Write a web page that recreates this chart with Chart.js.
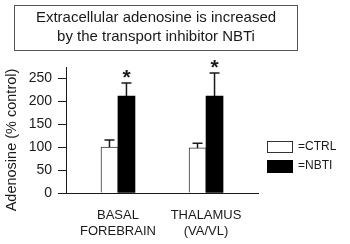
<!DOCTYPE html>
<html>
<head>
<meta charset="utf-8">
<script src="https://cdn.jsdelivr.net/npm/chart.js@4"></script>
<style>
  html, body { margin: 0; padding: 0; background: #fff; }
</style>
</head>
<body>
<canvas id="chart" width="350" height="244"></canvas>
<script>
// 데이터
const regions = [["BASAL", "FOREBRAIN"], ["THALAMUS", "(VA/VL)"]];
const regionPos = [1, 2];
const ctrlValues = [100, 98];
const nbtiValues = [211, 211];
const ctrlErr = [15, 10];
const nbtiErr = [28, 50];
const significant = [true, true];
const yTicks = [0, 50, 100, 150, 200, 250];
const yTitle = "Adenosine (% control)";
const titleLines = ["Extracellular adenosine is increased", "by the transport inhibitor NBTi"];

const FONT = "'Liberation Sans', Arial, sans-serif";
const INK = "#1a1a1a";

// 제목 박스 + y축 제목
const titleBox = {
  id: "titleBox",
  afterDraw(chart) {
    const c = chart.ctx;
    c.save();
    c.strokeStyle = "#555";
    c.lineWidth = 1;
    c.strokeRect(14.5, 5.5, 283, 45);
    c.fillStyle = INK;
    c.font = "15px " + FONT;
    c.textAlign = "center";
    c.textBaseline = "middle";
    c.fillText(titleLines[0], 156, 18);
    c.fillText(titleLines[1], 156, 37);
    c.translate(12, 140);
    c.rotate(-Math.PI / 2);
    c.font = "14.5px " + FONT;
    c.fillText(yTitle, 0, 0);
    c.restore();
  },
};

// 오차 막대 + 별표
const errorBars = {
  id: "errorBars",
  afterDatasetsDraw(chart) {
    const c = chart.ctx;
    const y = chart.scales.y;
    c.save();
    c.strokeStyle = INK;
    c.lineWidth = 1.5;
    [ctrlErr, nbtiErr].forEach((errs, di) => {
      const meta = chart.getDatasetMeta(di);
      const vals = di === 0 ? ctrlValues : nbtiValues;
      meta.data.forEach((bar, i) => {
        const top = y.getPixelForValue(vals[i] + errs[i]);
        c.beginPath();
        c.moveTo(bar.x, bar.y);
        c.lineTo(bar.x, top);
        c.moveTo(bar.x - 5, top);
        c.lineTo(bar.x + 5, top);
        c.stroke();
        if (di === 1 && significant[i]) {
          c.fillStyle = INK;
          c.font = "bold 21px " + FONT;
          c.textAlign = "center";
          c.textBaseline = "middle";
          c.fillText("*", bar.x, top - 5);
        }
      });
    });
    c.restore();
  },
};

// 범례
const sideLegend = {
  id: "sideLegend",
  afterDraw(chart) {
    const c = chart.ctx;
    c.save();
    c.strokeStyle = "#333";
    c.lineWidth = 1;
    c.strokeRect(267.5, 141.5, 25, 11);
    c.fillStyle = "#000";
    c.fillRect(267, 160, 26, 13);
    c.fillStyle = INK;
    c.font = "12px " + FONT;
    c.textBaseline = "middle";
    c.fillText("=CTRL", 298, 147);
    c.fillText("=NBTI", 298, 166);
    c.restore();
  },
};

const ctx = document.getElementById("chart").getContext("2d");
new Chart(ctx, {
  type: "bar",
  data: {
    datasets: [
      {
        label: "CTRL",
        data: regionPos.map((x, i) => ({ x: x, y: ctrlValues[i] })),
        backgroundColor: "#fff",
        borderColor: "#333",
        borderWidth: 1,
        barThickness: 17,
      },
      {
        label: "NBTI",
        data: regionPos.map((x, i) => ({ x: x, y: nbtiValues[i] })),
        backgroundColor: "#000",
        borderColor: "#000",
        borderWidth: 0,
        barThickness: 17,
      },
    ],
  },
  options: {
    responsive: false,
    animation: false,
    layout: { padding: { top: 67, right: 92, left: 0, bottom: 0 } },
    plugins: { legend: { display: false }, tooltip: { enabled: false } },
    scales: {
      x: {
        type: "linear",
        offset: false,
        min: 0.41,
        max: 2.59,
        grid: { display: false },
        border: { display: true, color: INK, width: 1 },
        afterBuildTicks: (s) => { s.ticks = regionPos.map((v) => ({ value: v })); },
        afterFit: (s) => { s.height = 51; },
        ticks: {
          color: INK,
          font: { size: 13, family: FONT },
          padding: 7,
          maxRotation: 0,
          autoSkip: false,
          callback: (v) => regions[regionPos.indexOf(v)] || "",
        },
      },
      y: {
        min: 0,
        max: 274,
        grid: { drawOnChartArea: false, tickLength: 8, color: INK },
        border: { display: true, color: INK, width: 1 },
        afterBuildTicks: (s) => { s.ticks = yTicks.map((v) => ({ value: v })); },
        afterFit: (s) => { s.width = 66; },
        ticks: { color: INK, font: { size: 14, family: FONT }, padding: 6 },
      },
    },
  },
  plugins: [titleBox, errorBars, sideLegend],
});
</script>
</body>
</html>
